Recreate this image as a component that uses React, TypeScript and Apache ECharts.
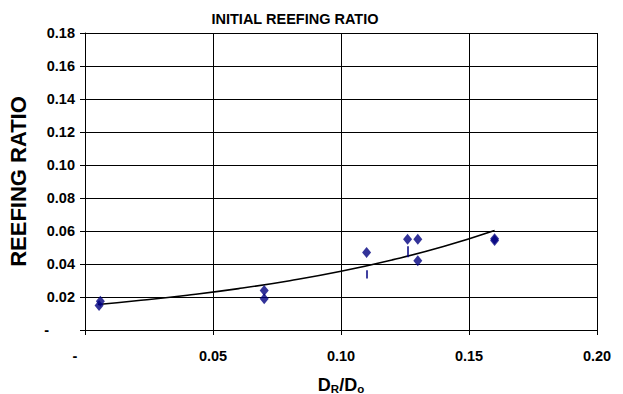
import React, { useEffect, useRef } from "react";
import * as echarts from "echarts";

const pointsX = [0.0055, 0.006, 0.07, 0.07, 0.11, 0.126, 0.13, 0.13, 0.16, 0.16];
const pointsY = [0.0148, 0.0175, 0.024, 0.019, 0.047, 0.055, 0.055, 0.042, 0.0543, 0.0553];

const trendX = [0.005, 0.02, 0.04, 0.06, 0.08, 0.1, 0.12, 0.14, 0.16];
const trendY = [0.0155, 0.0177, 0.0211, 0.0251, 0.0299, 0.0356, 0.0425, 0.0506, 0.0603];

const errX = [0.11, 0.126];
const errLow = [0.0312, 0.0441];
const errHigh = [0.0362, 0.0508];

const title = "INITIAL REEFING RATIO";
const yTitle = "REEFING RATIO";

export default function App() {
  const ref = useRef<HTMLDivElement>(null);
  useEffect(() => {
    if (!ref.current) return;
    const chart = echarts.init(ref.current, undefined, { renderer: "svg" });
    const font = "Liberation Sans, Arial, sans-serif";
    const navy = "#000080";
    chart.setOption({
      animation: false,
      backgroundColor: "#fff",
      title: {
        text: title,
        left: 290,
        textAlign: "center",
        top: 6,
        textStyle: { fontFamily: font, fontWeight: "bold", fontSize: 14.5, color: "#000" },
      },
      grid: { left: 85, right: 26, top: 33, bottom: 64, containLabel: false, outerBoundsMode: "none" },
      xAxis: {
        type: "value",
        min: 0,
        max: 0.2,
        interval: 0.05,
        axisLine: { show: true, onZero: false, lineStyle: { color: "#000", width: 1 } },
        axisTick: { show: true, inside: false, length: 5, lineStyle: { color: "#000" } },
        splitLine: { show: true, lineStyle: { color: "#000", width: 1 } },
        axisLabel: {
          margin: 18,
          fontFamily: font,
          fontWeight: "bold",
          fontSize: 14.5,
          color: "#000",
          formatter: (v: number) => (v === 0 ? "{d|-}" : v.toFixed(2)),
          rich: { d: { padding: [0, 20, 0, 0], fontFamily: font, fontWeight: "bold", fontSize: 14.5, color: "#000" } },
        },
        name: "{a|D}{s|R}{a|/D}{s|o}",
        nameLocation: "middle",
        nameGap: 44,
        nameTextStyle: {
          rich: {
            a: { fontFamily: font, fontWeight: "bold", fontSize: 18, color: "#000" },
            s: { fontFamily: font, fontWeight: "bold", fontSize: 11.5, color: "#000", verticalAlign: "bottom", padding: [9, 0, 0, 0] },
          },
        },
      },
      yAxis: {
        type: "value",
        min: 0,
        max: 0.18,
        interval: 0.02,
        axisLine: { show: true, onZero: false, lineStyle: { color: "#000", width: 1 } },
        axisTick: { show: true, inside: false, length: 5, lineStyle: { color: "#000" } },
        splitLine: { show: true, lineStyle: { color: "#000", width: 1 } },
        axisLabel: {
          margin: 10,
          fontFamily: font,
          fontWeight: "bold",
          fontSize: 14.5,
          color: "#000",
          formatter: (v: number) => (v === 0 ? "{d|-}" : v.toFixed(2)),
          rich: { d: { padding: [0, 26, 0, 0], fontFamily: font, fontWeight: "bold", fontSize: 14.5, color: "#000" } },
        },
        name: yTitle,
        nameLocation: "middle",
        nameGap: 56,
        nameTextStyle: { fontFamily: font, fontWeight: "bold", fontSize: 22, color: "#000" },
      },
      series: [
        {
          type: "line",
          data: trendX.map((x, i) => [x, trendY[i]]),
          smooth: true,
          showSymbol: false,
          symbol: "none",
          lineStyle: { color: "#000", width: 1.6 },
          z: 3,
        },
        {
          type: "scatter",
          data: pointsX.map((x, i) => [x, pointsY[i]]),
          symbol: "diamond",
          symbolSize: [9, 11],
          itemStyle: { color: navy },
          z: 4,
          markLine: {
            silent: true,
            symbol: ["none", "none"],
            label: { show: false },
            lineStyle: { color: navy, width: 1.5, type: "solid" },
            data: errX.map((x, i) => [{ coord: [x, errLow[i]] }, { coord: [x, errHigh[i]] }]),
          },
        },
      ],
    });
    return () => chart.dispose();
  }, []);
  return <div ref={ref} style={{ width: 623, height: 394, position: "absolute", left: 0, top: 0 }} />;
}
